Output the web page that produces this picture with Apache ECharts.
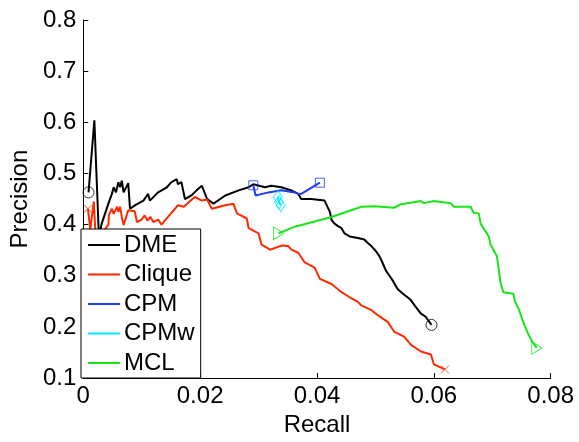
<!DOCTYPE html>
<html>
<head>
<meta charset="utf-8">
<script src="https://cdn.jsdelivr.net/npm/echarts@6/dist/echarts.min.js"></script>
<style>
html,body{margin:0;padding:0;background:#fff;}
#c{width:579px;height:442px;}
</style>
</head>
<body>
<div id="c"></div>
<script>
// ---- data ----
var xTicks = [0, 0.02, 0.04, 0.06, 0.08];
var yTicks = [0.1, 0.2, 0.3, 0.4, 0.5, 0.6, 0.7, 0.8];
var seriesNames = ['DME', 'Clique', 'CPM', 'CPMw', 'MCL'];

var dmeRecall = [0.0009,0.0019,0.0027,0.0031,0.0043,0.0049,0.0052,0.0056,0.0060,0.0063,0.0066,0.0069,0.0077,0.0080,0.0089,0.0103,0.0111,0.0114,0.0128,0.0143,0.0151,0.0160,0.0162,0.0168,0.0174,0.0185,0.0194,0.0203,0.0212,0.0223,0.0243,0.0266,0.0283,0.0291,0.0311,0.0322,0.0339,0.0356,0.0368,0.0373,0.0390,0.0413,0.0422,0.0425,0.0430,0.0436,0.0442,0.0447,0.0456,0.0470,0.0481,0.0487,0.0493,0.0501,0.0507,0.0512,0.0518,0.0524,0.0530,0.0538,0.0547,0.0555,0.0561,0.0569,0.0578,0.0586,0.0596];
var dmePrecision = [0.463,0.604,0.37,0.400,0.441,0.460,0.473,0.463,0.483,0.473,0.486,0.463,0.481,0.431,0.438,0.447,0.460,0.447,0.463,0.473,0.483,0.489,0.479,0.483,0.450,0.457,0.467,0.476,0.450,0.441,0.457,0.467,0.473,0.479,0.473,0.476,0.473,0.467,0.460,0.450,0.450,0.447,0.425,0.409,0.402,0.397,0.393,0.383,0.377,0.374,0.371,0.364,0.358,0.348,0.338,0.326,0.310,0.300,0.290,0.274,0.265,0.258,0.252,0.239,0.226,0.220,0.204];

var cliqueRecall = [0.0008,0.0012,0.0018,0.0022,0.0030,0.0043,0.0044,0.0049,0.0052,0.0058,0.0060,0.0063,0.0066,0.0069,0.0077,0.0088,0.0092,0.0100,0.0105,0.0110,0.0115,0.0120,0.0128,0.0134,0.0145,0.0157,0.0162,0.0172,0.0182,0.0191,0.0203,0.0212,0.0220,0.0243,0.0257,0.0263,0.0280,0.0283,0.0300,0.0305,0.0320,0.0339,0.0351,0.0356,0.0368,0.0379,0.0396,0.0405,0.0425,0.0442,0.0456,0.0470,0.0476,0.0493,0.0504,0.0521,0.0532,0.0549,0.0561,0.0578,0.0595,0.0600,0.0619];
var cliquePrecision = [0.431,0.39,0.445,0.36,0.38,0.400,0.419,0.431,0.421,0.435,0.425,0.435,0.415,0.399,0.428,0.426,0.405,0.410,0.418,0.408,0.415,0.405,0.410,0.400,0.415,0.431,0.438,0.435,0.445,0.454,0.447,0.449,0.431,0.438,0.441,0.422,0.412,0.393,0.383,0.361,0.351,0.359,0.358,0.351,0.345,0.326,0.316,0.294,0.284,0.268,0.258,0.249,0.242,0.233,0.223,0.210,0.191,0.181,0.165,0.152,0.146,0.127,0.117];

var cpmRecall = [0.0291,0.0295,0.0317,0.0339,0.0362,0.0368,0.0373,0.0405];
var cpmPrecision = [0.477,0.457,0.463,0.467,0.463,0.460,0.460,0.482];

var cpmwRecall = [0.0333,0.0335,0.0338];
var cpmwPrecision = [0.454,0.444,0.438];

var mclRecall = [0.0334,0.0362,0.0425,0.0476,0.0498,0.0532,0.0544,0.0578,0.0583,0.0600,0.0629,0.0634,0.0663,0.0668,0.0677,0.0680,0.0694,0.0697,0.0708,0.0711,0.0714,0.0719,0.0736,0.0739,0.0745,0.0753,0.0762,0.0768,0.0776];
var mclPrecision = [0.383,0.396,0.415,0.435,0.436,0.433,0.440,0.446,0.442,0.446,0.442,0.435,0.435,0.423,0.422,0.402,0.377,0.361,0.338,0.313,0.287,0.268,0.265,0.249,0.236,0.210,0.185,0.172,0.159];

// ---- build ----
function pairs(xs, ys){ return xs.map(function(x,i){ return [x, ys[i]]; }); }
function ends(xs, ys){ return [[xs[0], ys[0]], [xs[xs.length-1], ys[ys.length-1]]]; }

var colors = {DME:'#000000', Clique:'#ff2a00', CPM:'#1f3cff', CPMw:'#00e8ff', MCL:'#19e619'};
var FONT = 'Liberation Sans, Arial, Helvetica, sans-serif';

function lineSeries(name, xs, ys){
  return {name:name, type:'line', data:pairs(xs,ys), showSymbol:false, symbol:'none',
    lineStyle:{color:colors[name], width:2}, itemStyle:{color:colors[name]}, animation:false, z:2};
}
function markerSeries(color, data, symbol, size, rotate){
  return {type:'scatter', data:data, symbol:symbol, symbolSize:size, symbolRotate:rotate||0,
    itemStyle:{color:'rgba(0,0,0,0)', borderColor:color, borderWidth:1}, animation:false, silent:true, z:3};
}

var chart = echarts.init(document.getElementById('c'), null, {renderer:'canvas'});
chart.setOption({
  animation:false,
  backgroundColor:'#ffffff',
  textStyle:{fontFamily:FONT},
  grid:{left:80.5, right:28.3, top:20, bottom:58, containLabel:false},
  xAxis:{type:'value', min:xTicks[0], max:xTicks[xTicks.length-1], interval:0.02,
    name:'Recall', nameLocation:'middle', nameGap:28,
    nameTextStyle:{color:'#000', fontSize:24, fontFamily:FONT},
    axisLine:{show:true, onZero:false, lineStyle:{color:'#000', width:1}},
    axisTick:{show:true, inside:true, length:5, lineStyle:{color:'#000'}},
    axisLabel:{color:'#000', fontSize:24, fontFamily:FONT, margin:6,
      formatter:function(v){ return v===0 ? '0' : v.toFixed(2); }},
    splitLine:{show:false}},
  yAxis:{type:'value', min:yTicks[0], max:yTicks[yTicks.length-1], interval:0.1,
    name:'Precision', nameLocation:'middle', nameGap:48,
    nameTextStyle:{color:'#000', fontSize:24, fontFamily:FONT},
    axisLine:{show:true, onZero:false, lineStyle:{color:'#000', width:1}},
    axisTick:{show:true, inside:true, length:5, lineStyle:{color:'#000'}},
    axisLabel:{color:'#000', fontSize:24, fontFamily:FONT, margin:7,
      formatter:function(v){ return v.toFixed(1); }},
    splitLine:{show:false}},
  legend:{data:seriesNames, orient:'vertical', left:81, top:229,
    backgroundColor:'#ffffff', borderColor:'#000', borderWidth:1, borderRadius:0,
    padding:[3,6,2,7], itemGap:3.5, itemWidth:32, itemHeight:2, icon:'rect',
    textStyle:{color:'#000', fontSize:24, fontFamily:FONT, lineHeight:26, padding:[0,0,0,-1]},
    selectedMode:false, z:10},
  series:[
    lineSeries('DME', dmeRecall, dmePrecision),
    lineSeries('Clique', cliqueRecall, cliquePrecision),
    lineSeries('CPM', cpmRecall, cpmPrecision),
    lineSeries('CPMw', cpmwRecall, cpmwPrecision),
    lineSeries('MCL', mclRecall, mclPrecision),
    markerSeries(colors.DME, ends(dmeRecall, dmePrecision), 'circle', 11),
    markerSeries(colors.Clique, ends(cliqueRecall, cliquePrecision), 'path://M0,0L10,10M10,0L0,10', 8),
    markerSeries(colors.CPM, ends(cpmRecall, cpmPrecision), 'rect', 9),
    markerSeries(colors.CPMw, pairs(cpmwRecall, cpmwPrecision), 'diamond', [9,13]),
    markerSeries(colors.MCL, ends(mclRecall, mclPrecision), 'triangle', [13,10], -90)
  ]
});
</script>
</body>
</html>
